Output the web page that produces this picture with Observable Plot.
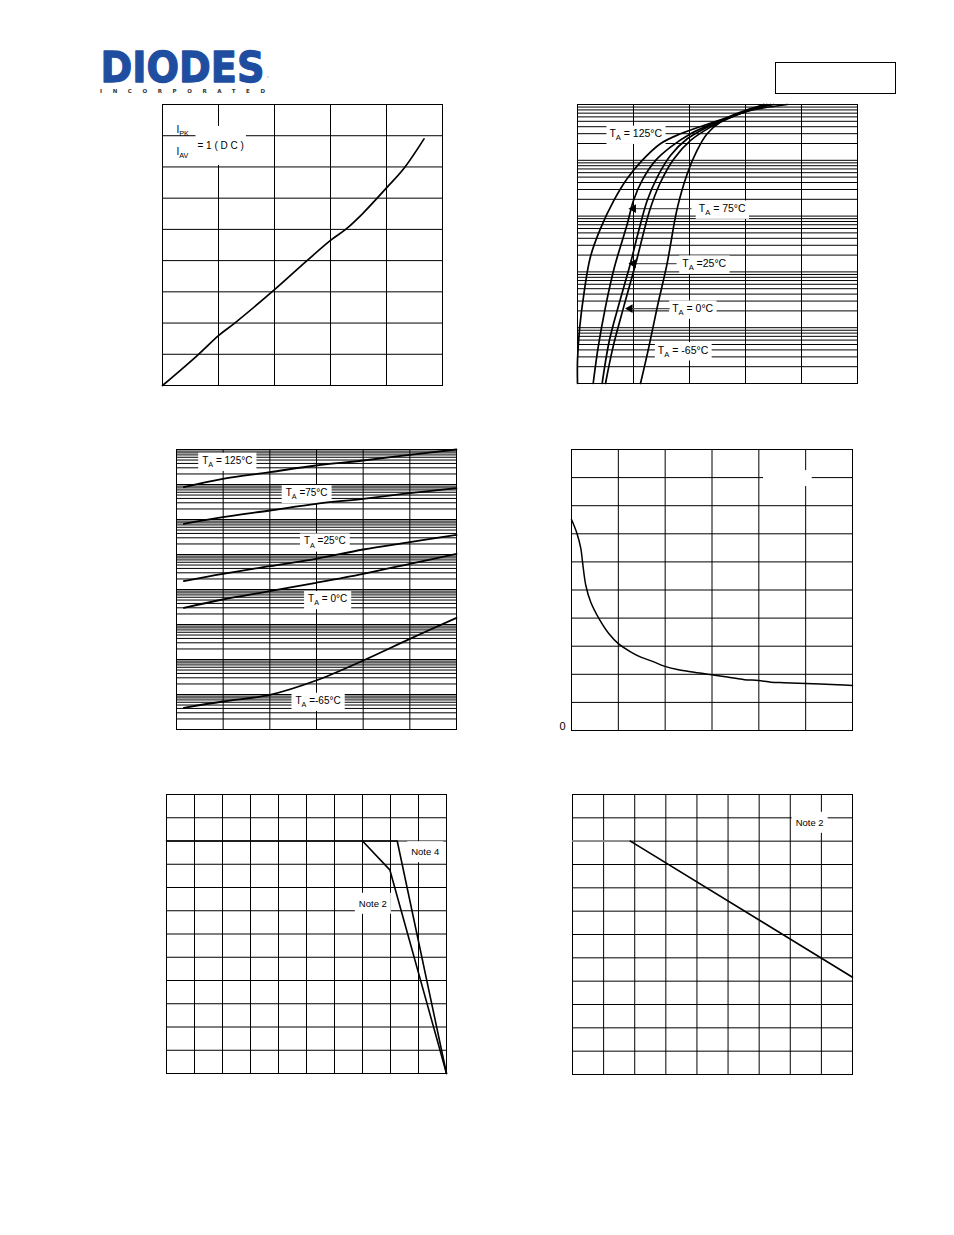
<!DOCTYPE html>
<html>
<head>
<meta charset="utf-8">
<script src="https://cdn.jsdelivr.net/npm/d3@7"></script>
<script src="https://cdn.jsdelivr.net/npm/@observablehq/plot@0.6"></script>
<style>
  html, body { margin: 0; padding: 0; background: #fff; }
  #page { position: relative; width: 954px; height: 1235px; overflow: hidden; background: #fff;
          font-family: "Liberation Sans", Arial, Helvetica, sans-serif; }
  .chart { position: absolute; line-height: 0; }
  #partbox { position: absolute; left: 775px; top: 62px; width: 121px; height: 32px;
             box-sizing: border-box; border: 1.5px solid #000; }
</style>
</head>
<body>
<div id="page">
  <svg id="logo" style="position:absolute;left:95px;top:35px" width="200" height="65">
    <text font-family="DejaVu Sans" font-weight="bold"><tspan x="5.5" y="47" font-size="43" fill="#1f4ea1"
          stroke="#1f4ea1" stroke-width="1.3" stroke-linejoin="round"
          textLength="164" lengthAdjust="spacingAndGlyphs">DIODES</tspan><tspan x="171" y="44" font-size="3.5" font-weight="normal" fill="#1f4ea1">™</tspan><tspan x="5" y="57.5" font-size="5.5" fill="#333"
          textLength="165" lengthAdjust="spacing">INCORPORATED</tspan></text>
  </svg>
  <div id="partbox"></div>
</div>
<script>
// ---------------- DATA ----------------
// Fig 1: linear grid (5 x 9 divisions)
const pdX = [0, 0.62, 1.0, 1.29, 2.0, 2.58, 3.0, 3.27, 3.57, 4.0, 4.31, 4.67];
const pdY = [0, 0.96, 1.6, 2.0, 3.07, 4.0, 4.65, 5.0, 5.5, 6.33, 6.95, 7.9];
const pdXTicks = [0, 1, 2, 3, 4, 5];
const pdYTicks = [0, 1, 2, 3, 4, 5, 6, 7, 8, 9];
const pdLabelsBoxed = [[0.625, 7.68, "= 1 ( D C )"]];
const pdLabelsPlain = [[0.25, 8.19, "I_PK"], [0.25, 7.5, "I_AV"]];

// Fig 2: forward characteristics, V (0..1) vs log current (0.01..1000)
const fwdNames = ["125", "75", "25", "0", "-65"];
const fwd125 = [[0,0.01],[0,0.026],[0.008,0.103],[0.023,0.41],[0.046,1.85],[0.082,5.95],[0.13,19.1],[0.177,46.7],[0.231,99.5],[0.296,198],[0.368,299],[0.451,421],[0.523,553],[0.618,781],[0.749,1000]];
const fwd75  = [[0.056,0.01],[0.074,0.0453],[0.1,0.236],[0.132,1.22],[0.178,7.31],[0.2,19.1],[0.231,43.6],[0.279,99.5],[0.332,172],[0.404,299],[0.487,463],[0.57,662],[0.642,871],[0.701,1000]];
const fwd25  = [[0.088,0.01],[0.114,0.0597],[0.152,0.31],[0.189,1.41],[0.219,5.56],[0.249,19.1],[0.285,50],[0.332,122],[0.392,243],[0.463,393],[0.523,553],[0.606,803],[0.677,1000]];
const fwd0   = [[0.1,0.01],[0.127,0.0453],[0.165,0.236],[0.208,1.41],[0.258,12.7],[0.294,38],[0.344,106],[0.404,227],[0.475,393],[0.535,553],[0.618,803],[0.689,1000]];
const fwdM65 = [[0.225,0.01],[0.255,0.0453],[0.285,0.236],[0.32,1.41],[0.356,13.6],[0.392,57.4],[0.427,150],[0.463,299],[0.511,483],[0.594,729],[0.665,1000]];
const fwdXTicks = [0, 0.2, 0.4, 0.6, 0.8, 1.0];
const fwdYDomain = [0.01, 1000];
const fwdLabels = [[0.114, 299, "T_A = 125°C"], [0.433, 13.6, "T_A = 75°C"], [0.374, 1.41, "T_A =25°C"], [0.338, 0.22, "T_A = 0°C"], [0.287, 0.0394, "T_A = -65°C"]];
const fwdArrows = [[0.407, 0.189, 13.6], [0.354, 0.189, 1.41], [0.329, 0.177, 0.22]];

// Fig 3: reverse leakage, V (0..60) vs log current (1e-3..1e5)
const revNames = ["125", "75", "25", "0", "-65"];
const rev125 = [[1.57,8400],[9.93,14500],[20,22500],[29.9,34900],[40,48500],[50,70400],[60,100000]];
const rev75  = [[1.57,752],[9.93,1166],[20,1808],[29.9,2805],[40,3893],[50,5650],[60,7850]];
const rev25  = [[1.57,17.3],[9.93,28],[20,46.4],[29.9,75.2],[40,139],[50,225],[60,365]];
const rev0   = [[1.57,2.99],[9.93,5.18],[20,8.96],[29.9,15.5],[40,28],[50,54.1],[60,104.5]];
const revM65 = [[1.57,0.00416],[9.93,0.00631],[20,0.00978],[29.9,0.0251],[40,0.0936],[50,0.389],[60,1.55]];
const revXTicks = [0, 10, 20, 30, 40, 50, 60];
const revYDomain = [1e-3, 1e5];
const revLabels = [[5.51, 48500, "T_A = 125°C"], [23.4, 5790, "T_A =75°C"], [27.3, 240, "T_A =25°C"], [28.2, 5.42, "T_A = 0°C"], [25.5, 0.00674, "T_A =-65°C"]];

// Fig 4: capacitance vs reverse voltage
const capV = [0, 0.57, 1.0, 1.18, 1.53, 2.05, 2.95, 4.0, 5.0, 6.35, 7.4, 8.65, 9.9, 11.3, 13.1, 14.95, 16.65, 18.45, 19.95, 21.3, 22.7, 25.0, 28.4, 30];
const capC = [75.1, 70.3, 64.7, 59.9, 51.6, 45.7, 39.7, 34.4, 30.9, 27.9, 26.1, 24.6, 22.9, 21.7, 20.7, 19.8, 19.0, 18.1, 17.8, 17.2, 17.0, 16.7, 16.3, 16.0];
const capXTicks = [0, 5, 10, 15, 20, 25, 30];
const capYTicks = [0, 10, 20, 30, 40, 50, 60, 70, 80, 90, 100];
const capYLabels = [0];
const capBlankBox = [[20.5, 25.7, 86.8, 92.5]];

// Fig 5: power derating (%), temperature 0..200
const derNote2 = [[0,100],[140,100],[159.5,87.6],[200,0]];
const derNote4 = [[140,100],[164.8,100],[200,0]];
const derXTicks = [0, 20, 40, 60, 80, 100, 120, 140, 160, 180, 200];
const derYTicks = [0, 10, 20, 30, 40, 50, 60, 70, 80, 90, 100, 110, 120];
const derLabels = [[174.8, 95.2, "Note 4"], [137.4, 73.0, "Note 2"]];

// Fig 6: current derating (%), temperature 0..225
const curDer = [[0,100],[46.5,100],[225,41.7]];
const curXTicks = [0, 25, 50, 75, 100, 125, 150, 175, 200, 225];
const curYTicks = [0, 10, 20, 30, 40, 50, 60, 70, 80, 90, 100, 110, 120];
const curLabels = [[179.3, 107.9, "Note 2"]];

// ---------------- HELPERS ----------------
const page = document.getElementById("page");
const FONT = '"Liberation Sans", Arial, Helvetica, sans-serif';
const NS = "http://www.w3.org/2000/svg";

function logGrid([lo, hi]) {
  const out = [];
  for (let e = Math.round(Math.log10(lo)); e < Math.round(Math.log10(hi)); e++)
    for (let m = 1; m < 10; m++) out.push(+(m * Math.pow(10, e)).toPrecision(3));
  out.push(hi);
  return out;
}
function rows(names, series) {
  return series.flatMap((pts, i) => pts.map(([x, y]) => ({name: names[i], x, y})));
}

function finishLabels(svg, padX, padY) {
  const texts = Array.from(svg.querySelectorAll("text"));
  const boxed = [];
  texts.forEach(t => {
    const s = t.textContent;
    if (!/[A-Za-z]/.test(s)) return;
    const plain = /^I_/.test(s) || !!t.closest('g[aria-description="plain"]');
    t.style.whiteSpace = "pre";
    const m = s.match(/^([^_]*)_([A-Z]+)(.*)$/);
    if (m) {
      const fs = parseFloat(getComputedStyle(t).fontSize) || 10;
      t.textContent = "";
      const a = document.createElementNS(NS, "tspan"); a.textContent = m[1]; t.appendChild(a);
      const b = document.createElementNS(NS, "tspan"); b.textContent = m[2];
      b.setAttribute("dy", (fs * 0.32).toFixed(2)); b.setAttribute("font-size", (fs * 0.72).toFixed(2)); t.appendChild(b);
      if (m[3]) {
        const c = document.createElementNS(NS, "tspan"); c.textContent = m[3];
        c.setAttribute("dy", (-fs * 0.32).toFixed(2)); t.appendChild(c);
      }
    }
    if (!plain) boxed.push(t);
  });
  boxed.forEach(t => {
    const b = t.getBBox();
    const r = document.createElementNS(NS, "rect");
    r.setAttribute("x", b.x - padX); r.setAttribute("y", b.y - padY);
    r.setAttribute("width", b.width + 2 * padX); r.setAttribute("height", b.height + 2 * padY);
    r.setAttribute("fill", "white"); r.setAttribute("stroke", "none");
    const tr = t.getAttribute("transform"); if (tr) r.setAttribute("transform", tr);
    t.parentNode.insertBefore(r, t);
  });
}

function build({left, top, w, h, ml = 4, mr = 4, mt = 4, mb = 4, x, y, marks, pad = [3, 2]}) {
  const svg = Plot.plot({
    width: w + ml + mr, height: h + mt + mb,
    marginLeft: ml, marginRight: mr, marginTop: mt, marginBottom: mb,
    x: {...x, axis: null}, y: {...y, axis: null},
    style: {fontFamily: FONT, fontSize: "10px", background: "transparent", color: "black", overflow: "visible"},
    marks
  });
  const holder = document.createElement("div");
  holder.className = "chart";
  holder.style.left = (left - ml) + "px";
  holder.style.top = (top - mt) + "px";
  holder.appendChild(svg);
  page.appendChild(holder);
  finishLabels(svg, pad[0], pad[1]);
  return svg;
}

const grid = (xt, yt, sw = 1) => [
  Plot.ruleX(xt, {stroke: "black", strokeWidth: sw}),
  Plot.ruleY(yt, {stroke: "black", strokeWidth: sw}),
  Plot.frame({stroke: "black", strokeWidth: sw})
];
const curveStyle = {stroke: "black", strokeWidth: 1.7, curve: "catmull-rom", strokeLinejoin: "round"};
const labelText = (data, fs, desc) => Plot.text(data, {
  x: d => d[0], y: d => d[1], text: d => d[2], textAnchor: "start", fontSize: fs, ariaDescription: desc
});

// ---------------- FIG 1 ----------------
build({
  left: 162, top: 104, w: 280, h: 281, pad: [2, 14],
  x: {domain: [0, 5]}, y: {domain: [0, 9]},
  marks: [
    ...grid(pdXTicks, pdYTicks),
    labelText(pdLabelsBoxed, 10, "label"),
    labelText(pdLabelsPlain, 10, "plain"),
    Plot.line(pdX.map((v, i) => [v, pdY[i]]), {x: d => d[0], y: d => d[1], ...curveStyle})
  ]
});

// ---------------- FIG 2 ----------------
build({
  left: 577, top: 104, w: 280, h: 279, pad: [3, 1.5],
  x: {domain: [0, 1]}, y: {type: "log", domain: fwdYDomain},
  marks: [
    ...grid(fwdXTicks, logGrid(fwdYDomain)),
    labelText(fwdLabels, 10.5, "label"),
    Plot.link(fwdArrows, {x1: d => d[0], x2: d => d[1], y1: d => d[2], y2: d => d[2], stroke: "#555", strokeWidth: 1.3}),
    Plot.dot(fwdArrows, {x: d => d[1], y: d => d[2], symbol: "triangle", r: 3.2, fill: "black", stroke: "none", rotate: -90, dx: 3}),
    Plot.line(rows(fwdNames, [fwd125, fwd75, fwd25, fwd0, fwdM65]), {x: "x", y: "y", z: "name", ...curveStyle})
  ]
});

// ---------------- FIG 3 ----------------
build({
  left: 176, top: 449, w: 280, h: 280, pad: [4, 2],
  x: {domain: [0, 60]}, y: {type: "log", domain: revYDomain},
  marks: [
    ...grid(revXTicks, logGrid(revYDomain)),
    labelText(revLabels, 10, "label"),
    Plot.line(rows(revNames, [rev125, rev75, rev25, rev0, revM65]), {x: "x", y: "y", z: "name", ...curveStyle, strokeWidth: 1.8})
  ]
});

// ---------------- FIG 4 ----------------
build({
  left: 571, top: 449, w: 281, h: 281, ml: 22,
  x: {domain: [0, 30]}, y: {domain: [0, 100]},
  marks: [
    ...grid(capXTicks, capYTicks),
    Plot.rect(capBlankBox, {x1: d => d[0], x2: d => d[1], y1: d => d[2], y2: d => d[3], fill: "white"}),
    Plot.text(capYLabels, {y: d => d, text: d => String(d), frameAnchor: "left", textAnchor: "end", dx: -6, dy: -4, fontSize: 11}),
    Plot.line(capV.map((v, i) => [v, capC[i]]), {x: d => d[0], y: d => d[1], ...curveStyle, strokeWidth: 1.5})
  ]
});

// ---------------- FIG 5 ----------------
build({
  left: 166, top: 794, w: 280, h: 279, pad: [4, 5],
  x: {domain: [0, 200]}, y: {domain: [0, 120]},
  marks: [
    ...grid(derXTicks, derYTicks),
    labelText(derLabels, 9.5, "label"),
    Plot.line(derNote2, {x: d => d[0], y: d => d[1], stroke: "black", strokeWidth: 1.6}),
    Plot.line(derNote4, {x: d => d[0], y: d => d[1], stroke: "black", strokeWidth: 1.6})
  ]
});

// ---------------- FIG 6 ----------------
build({
  left: 572, top: 794, w: 280, h: 280, pad: [4, 5],
  x: {domain: [0, 225]}, y: {domain: [0, 120]},
  marks: [
    ...grid(curXTicks, curYTicks),
    labelText(curLabels, 9.5, "label"),
    Plot.line(curDer.slice(0, 2), {x: d => d[0], y: d => d[1], stroke: "#8a8a8a", strokeWidth: 1.6}),
    Plot.line(curDer.slice(1), {x: d => d[0], y: d => d[1], stroke: "black", strokeWidth: 1.6})
  ]
});
</script>
</body>
</html>
